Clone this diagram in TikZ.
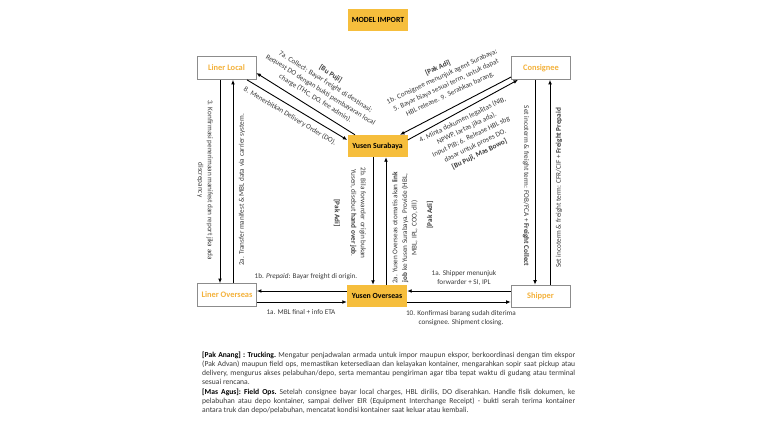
\documentclass[tikz,border=0pt]{standalone}
\usepackage{fontspec}
\setmainfont{Carlito}
\usetikzlibrary{arrows.meta,calc}
\definecolor{ygold}{HTML}{F6BE3C}
\definecolor{otext}{HTML}{F4B23C}
\definecolor{lgray}{HTML}{8C8C8C}
\definecolor{tgray}{HTML}{3A3A3A}
\begin{document}
\begin{tikzpicture}[x=1pt,y=-1pt,
 wbox/.style={draw=lgray,line width=0.7pt,fill=white,minimum width=59pt,minimum height=23pt,inner sep=0pt,text=otext,font=\fontsize{8.4}{9}\selectfont\bfseries},
 ybox/.style={fill=ygold,minimum width=60pt,minimum height=22pt,inner sep=0pt,font=\fontsize{7.8}{9}\selectfont\bfseries},
 arr/.style={-{Latex[length=4.5pt,width=3.8pt]},line width=0.9pt},
 lbl/.style={font=\fontsize{7.2}{9.6}\selectfont,text=tgray,align=center,inner sep=0pt},
]
\useasboundingbox[fill=white] (0,0) rectangle (768,431);

% title
\node[ybox] (title) at (378,20) {MODEL IMPORT};

% nodes
\node[wbox] (LL) at (226.5,68) {Liner Local};
\node[wbox] (CO) at (541,68) {Consignee};
\node[wbox] (LO) at (227,295) {Liner Overseas};
\node[wbox,minimum height=22pt] (SH) at (540.5,296) {Shipper};
\node[ybox] (YS) at (377.5,146) {Yusen Surabaya};
\node[ybox] (YO) at (377,296) {Yusen Overseas};

% vertical connectors
\draw[arr] ([xshift=-6.5pt]LL.south) -- ([xshift=-6.5pt]LL.south |- LO.north);
\draw[arr] ([xshift=6.5pt]LL.south |- LO.north) -- ([xshift=6.5pt]LL.south);
\draw[arr] ([xshift=-4.5pt]YS.south) -- ([xshift=-4.5pt]YS.south |- YO.north);
\draw[arr] ([xshift=8.5pt]YS.south |- YO.north) -- ([xshift=8.5pt]YS.south);
\draw[arr] ([xshift=-6pt]CO.south) -- ([xshift=-6pt]CO.south |- SH.north);
\draw[arr] ([xshift=9pt]CO.south |- SH.north) -- ([xshift=9pt]CO.south);

% horizontal connectors
\draw[arr] ([yshift=5pt]YO.west) -- ([yshift=5pt]YO.west -| LO.east);
\draw[arr] ([yshift=-6pt]YO.west -| LO.east) -- ([yshift=-6pt]YO.west);
\draw[arr] ([yshift=5pt]YO.east -| SH.west) -- ([yshift=5pt]YO.east);
\draw[arr] ([yshift=-6pt]YO.east) -- ([yshift=-6pt]YO.east -| SH.west);

% diagonal connectors
\draw[arr] ([xshift=-22.5pt]YS.north) -- ([yshift=-5pt]LL.east);
\draw[arr] ([xshift=20.5pt]LL.south) -- ([yshift=6pt]YS.west);
\draw[arr] ([yshift=-9pt]CO.west) -- ([xshift=22.5pt]YS.north);
\draw[arr] ([yshift=6pt]YS.east) -- ([xshift=-23pt]CO.south);

% diagonal labels
\node[lbl,rotate=-32] (t7a) at (323,86) {\textbf{[Bu Puji]}\\7a. Collect: Bayar freight di destinasi;\\Request DO dengan bukti pembayaran local\\charge (THC, DO, fee admin).};
\node[lbl,rotate=-31] (t8) at (290,116) {8. Menerbitkan Delivery Order (DO).};
\node[lbl,rotate=25] (t1b5) at (444,81) {\textbf{[Pak Adi]}\\1b. Consignee menunjuk agent Surabaya;\\5. Bayar biaya sesuai term, untuk dapat\\HBL release. 9. Serahkan barang.};
\node[lbl,rotate=26] (t4) at (471,137) {4. Minta dokumen legalitas (NIB,\\NPWP, lartas jika ada).\\Input PIB; 6. Release HBL sbg\\dasar untuk proses DO.\\\textbf{[Bu Puji, Mas Bowo]}};

% vertical labels
\node[lbl,rotate=-90] (t3) at (205,180) {3. Konfirmasi penerimaan manifest dan report jika ada\\discrepancy};
\node[lbl,rotate=90] (t2al) at (242,190) {2a. Transfer manifest \& MBL data via carrier system.};
\node[lbl,rotate=-90] (t2b) at (358,213) {2b. Bila forwarder origin bukan\\Yusen, disebut \textbf{hand over job}.};
\node[lbl,rotate=-90] (pa1) at (337,213) {\textbf{[Pak Adi]}};
\node[lbl,rotate=90] (t2am) at (405,228) {2a. Yusen Overseas otomatis akan \textbf{link}\\\textbf{job} ke Yusen Surabaya. Provide (HBL,\\MBL, IPL, COO, dll)};
\node[lbl,rotate=90] (pa2) at (430,215) {\textbf{[Pak Adi]}};
\node[lbl,rotate=-90] (tfob) at (526,186) {Set incoterm \& freight term: FOB/FCA + \textbf{Freight Collect}};
\node[lbl,rotate=90] (tcfr) at (559,188) {Set incoterm \& freight term: CFR/CIF + \textbf{Freight Prepaid}};

% horizontal labels
\node[lbl] (t1bp) at (306,277) {1b. \textit{Prepaid}: Bayar freight di origin.};
\node[lbl] (t1am) at (301,312) {1a. MBL final + info ETA};
\node[lbl] (t1as) at (464,278) {1a. Shipper menunjuk\\forwarder + SI, IPL};
\node[lbl] (t10) at (461,318) {10. Konfirmasi barang sudah diterima\\consignee. Shipment closing.};

% bottom paragraph
\node[anchor=north west,inner sep=0pt,text width=373pt,align=justify,text=tgray,
  font=\fontsize{7.6}{9.2}\selectfont] (para) at (202,351.5) {\frenchspacing\tolerance=9999\setlength\parindent{0pt}%
\textcolor{black}{\textbf{[Pak Anang] : Trucking.}} Mengatur penjadwalan armada untuk impor maupun ekspor, berkoordinasi dengan tim ekspor\linebreak
(Pak Advan) maupun field ops, memastikan ketersediaan dan kelayakan kontainer, mengarahkan sopir saat pickup atau\linebreak
delivery, mengurus akses pelabuhan/depo, serta memantau pengiriman agar tiba tepat waktu di gudang atau terminal\linebreak
sesuai rencana.\par
\textcolor{black}{\textbf{[Mas Agus]: Field Ops.}} Setelah consignee bayar local charges, HBL dirilis, DO diserahkan. Handle fisik dokumen, ke\linebreak
pelabuhan atau depo kontainer, sampai deliver EIR (Equipment Interchange Receipt) - bukti serah terima kontainer\linebreak
antara truk dan depo/pelabuhan, mencatat kondisi kontainer saat keluar atau kembali.};
\end{tikzpicture}
\end{document}
